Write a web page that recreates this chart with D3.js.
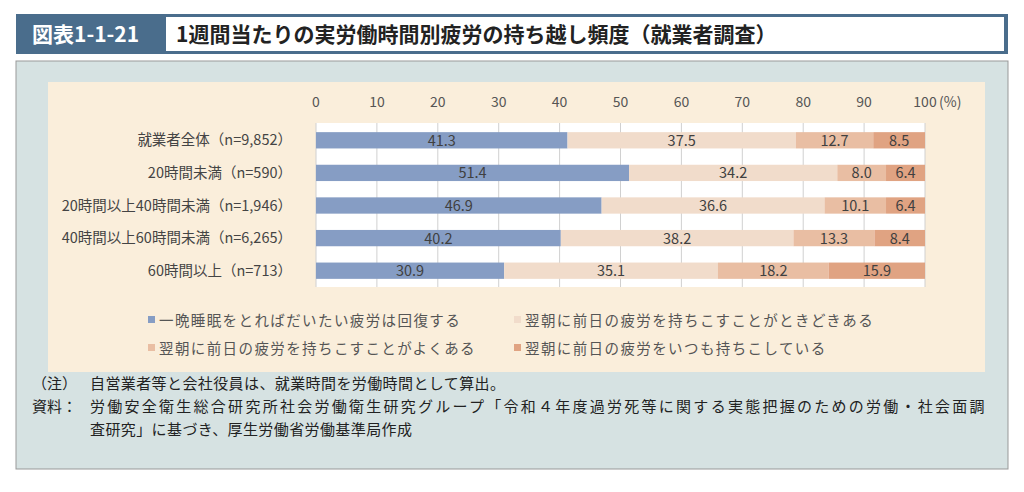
<!DOCTYPE html>
<html><head><meta charset="utf-8">
<script src="https://cdn.jsdelivr.net/npm/d3@7"></script>
<style>body{margin:0;background:#fff}text{font-family:"Noto Sans CJK JP","Noto Sans",sans-serif}</style>
</head><body><svg id="c" width="1024" height="492"></svg>
<script>
// categories and series (percent)
var categories = ["就業者全体（n=9,852）", "20時間未満（n=590）", "20時間以上40時間未満（n=1,946）", "40時間以上60時間未満（n=6,265）", "60時間以上（n=713）"];
var seriesNames = ["一晩睡眠をとればだいたい疲労は回復する", "翌朝に前日の疲労を持ちこすことがときどきある", "翌朝に前日の疲労を持ちこすことがよくある", "翌朝に前日の疲労をいつも持ちこしている"];
var s1 = [41.3, 51.4, 46.9, 40.2, 30.9];
var s2 = [37.5, 34.2, 36.6, 38.2, 35.1];
var s3 = [12.7, 8.0, 10.1, 13.3, 18.2];
var s4 = [8.5, 6.4, 6.4, 8.4, 15.9];
var ticks = [0, 10, 20, 30, 40, 50, 60, 70, 80, 90, 100];
var colors = ["#869dc4", "#f1dccb", "#e9bea3", "#e0a382"];

var svg = d3.select("#c");

// title bar
svg.append("rect").attr("x", 16).attr("y", 14).attr("width", 992).attr("height", 40).attr("fill", "#4a6d8c");
svg.append("rect").attr("x", 166).attr("y", 17).attr("width", 838).attr("height", 34).attr("fill", "#fff");
svg.append("text").attr("x", 32).attr("y", 42).attr("fill", "#fff").attr("font-size", 21).attr("font-weight", "bold").text("図表1-1-21");
svg.append("text").attr("x", 176).attr("y", 42).attr("fill", "#222").attr("font-size", 21).attr("font-weight", "bold").text("1週間当たりの実労働時間別疲労の持ち越し頻度（就業者調査）");

// panels
svg.append("rect").attr("x", 16).attr("y", 61).attr("width", 992).attr("height", 408).attr("fill", "#d6e2e2").attr("stroke", "#999");
svg.append("rect").attr("x", 48).attr("y", 82).attr("width", 937).attr("height", 290).attr("fill", "#faeedb");

var x = d3.scaleLinear().domain([0, 100]).range([316, 925]);
var y = d3.scaleBand().domain(categories).range([124, 287]).paddingInner(0.5).paddingOuter(0.25);

svg.append("rect").attr("x", x(0)).attr("y", 123).attr("width", x(100) - x(0)).attr("height", 164).attr("fill", "#fff");
svg.selectAll(".grid").data(ticks).enter().append("line")
  .attr("x1", d => x(d)).attr("x2", d => x(d)).attr("y1", 123).attr("y2", 287)
  .attr("stroke", "#d0d0d0").attr("stroke-width", 1);
svg.selectAll(".tick").data(ticks).enter().append("text")
  .attr("x", d => x(d)).attr("y", 107).attr("text-anchor", "middle")
  .attr("font-size", 14).attr("fill", "#555").text(d => d);
svg.append("text").attr("x", x(100) + 14).attr("y", 107).attr("font-size", 14).attr("fill", "#555").text("(%)");

// category labels
svg.selectAll(".cat").data(categories).enter().append("text")
  .attr("x", 292).attr("y", d => y(d) + y.bandwidth() / 2 + 5).attr("text-anchor", "end")
  .attr("font-size", 14.5).attr("fill", "#444").text(d => d);

// stacked bars
var all = [s1, s2, s3, s4];
categories.forEach(function (c, i) {
  var start = 0;
  all.forEach(function (s, k) {
    var v = s[i];
    var x0 = start, x1 = k == 3 ? 100 : start + v;
    svg.append("rect").attr("x", x(x0)).attr("y", y(c)).attr("width", x(x1) - x(x0)).attr("height", y.bandwidth()).attr("fill", colors[k]);
    svg.append("text").attr("x", (x(x0) + x(x1)) / 2).attr("y", y(c) + y.bandwidth() / 2 + 5.5)
      .attr("text-anchor", "middle").attr("font-size", 14.5).attr("fill", "#404040").text(v.toFixed(1));
    start += v;
  });
});

// legend
var legPos = [[148, 320], [514, 320], [148, 348], [514, 348]];
seriesNames.forEach(function (n, k) {
  svg.append("rect").attr("x", legPos[k][0]).attr("y", legPos[k][1] - 4).attr("width", 7).attr("height", 7).attr("fill", colors[k]);
  svg.append("text").attr("x", legPos[k][0] + 11).attr("y", legPos[k][1] + 6).attr("font-size", 14.5)
    .attr("letter-spacing", 1.4).attr("fill", "#555").text(n);
});

// notes
var notes = [["（注）", "自営業者等と会社役員は、就業時間を労働時間として算出。", 389],
  ["資料：", "労働安全衛生総合研究所社会労働衛生研究グループ「令和４年度過労死等に関する実態把握のための労働・社会面調", 412],
  ["", "査研究」に基づき、厚生労働省労働基準局作成", 435]];
notes.forEach(function (n) {
  svg.append("text").attr("x", 32).attr("y", n[2]).attr("font-size", 15).attr("fill", "#222").text(n[0]);
  svg.append("text").attr("x", 90).attr("y", n[2]).attr("font-size", 15).attr("letter-spacing", 0.4)
    .attr("textLength", n[1].length > 50 ? 895 : null).attr("fill", "#222").text(n[1]);
});
</script></body></html>
